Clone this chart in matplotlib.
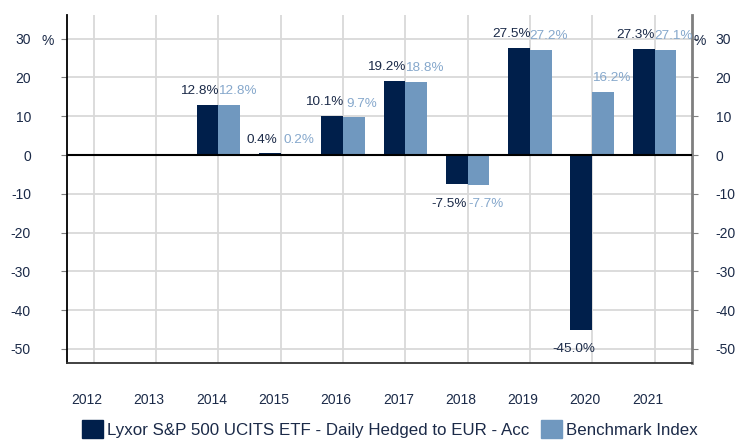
import numpy as np
import matplotlib.pyplot as plt
from matplotlib.patches import Patch
import matplotlib.transforms as mtransforms

plt.rcParams['font.family'] = ['Liberation Sans', 'DejaVu Sans']

years = ["2012", "2013", "2014", "2015", "2016", "2017", "2018", "2019", "2020", "2021"]
fund = [np.nan, np.nan, 12.8, 0.4, 10.1, 19.2, -7.5, 27.5, -45.0, 27.3]
bench = [np.nan, np.nan, 12.8, 0.2, 9.7, 18.8, -7.7, 27.2, 16.2, 27.1]
fund_name = "Lyxor S&P 500 UCITS ETF - Daily Hedged to EUR - Acc"
bench_name = "Benchmark Index"

dark = "#001f4b"
light = "#7098bf"
dark_txt = "#1b2a48"
light_txt = "#86a8cc"
txt = "#1b2a48"

fig = plt.figure(figsize=(7.37, 4.41), dpi=100)
ax = fig.add_axes([0.0909, 0.177, 0.848, 0.789])
x = np.arange(len(years))
w = 0.35

ax.bar(x - w/2, fund, w, color=dark, zorder=3)
ax.bar(x + w/2, bench, w, color=light, zorder=3)

for i in range(len(years)):
    for v, dx, c in ((fund[i], -0.3, dark_txt), (bench[i], 0.3, light_txt)):
        if np.isnan(v):
            continue
        if v >= 0:
            ax.annotate(f"{v:.1f}%", (x[i] + dx, v), xytext=(0, 10), textcoords="offset points",
                        ha="center", va="center", color=c, fontsize=9.7)
        else:
            ax.annotate(f"{v:.1f}%", (x[i] + dx, v), xytext=(0, -14), textcoords="offset points",
                        ha="center", va="center", color=c, fontsize=9.7)

ax.set_xlim(-0.43, 9.6)
ax.set_ylim(-53.6, 36.1)
yt = np.arange(-50, 31, 10)
ax.set_yticks(yt)
ax.set_yticklabels([str(t) for t in yt])
ax.set_xticks(x)
ax.set_xticklabels(years)
ax.axhline(0, color="black", lw=1.5, zorder=4)

ax.grid(True, color="#d9d9d9", lw=1.3, zorder=0)
ax.set_axisbelow(True)
ax.spines["top"].set_visible(False)
ax.spines["right"].set_color("#7f7f7f")
ax.spines["right"].set_linewidth(2)
ax.spines["left"].set_color("black")
ax.spines["left"].set_linewidth(1.3)
ax.spines["bottom"].set_color("#333333")
ax.spines["bottom"].set_linewidth(1.3)

ax.tick_params(axis="y", direction="out", length=4, color="#7f7f7f", pad=22,
               labelsize=10, labelcolor=txt)
ax.tick_params(axis="x", length=0, pad=22, labelsize=10, labelcolor=txt)
off = mtransforms.ScaledTranslation(-7/100, 0, fig.dpi_scale_trans)
for lab in ax.get_xticklabels():
    lab.set_transform(lab.get_transform() + off)

ax2 = ax.twinx()
ax2.set_ylim(ax.get_ylim())
ax2.set_yticks(yt)
ax2.set_yticklabels([str(t) for t in yt])
for s in ax2.spines.values():
    s.set_visible(False)
ax2.tick_params(axis="y", direction="out", length=4, color="#7f7f7f", pad=13,
                labelsize=10, labelcolor=txt)
for lab in ax2.get_yticklabels():
    lab.set_horizontalalignment("left")

fig.text(48/737, 1 - 41/441, "%", ha="center", va="center", fontsize=10, color=txt)
fig.text(700/737, 1 - 41/441, "%", ha="center", va="center", fontsize=10, color=txt)

handles = [Patch(color=dark, label=fund_name), Patch(color=light, label=bench_name)]
fig.legend(handles=handles, loc="center", bbox_to_anchor=(0.529, 0.027), ncol=2, frameon=False,
           fontsize=12.2, handlelength=1.25, handleheight=1.25, handletextpad=0.25,
           columnspacing=0.7, labelcolor=txt)

fig.savefig("out.png", dpi=100)
